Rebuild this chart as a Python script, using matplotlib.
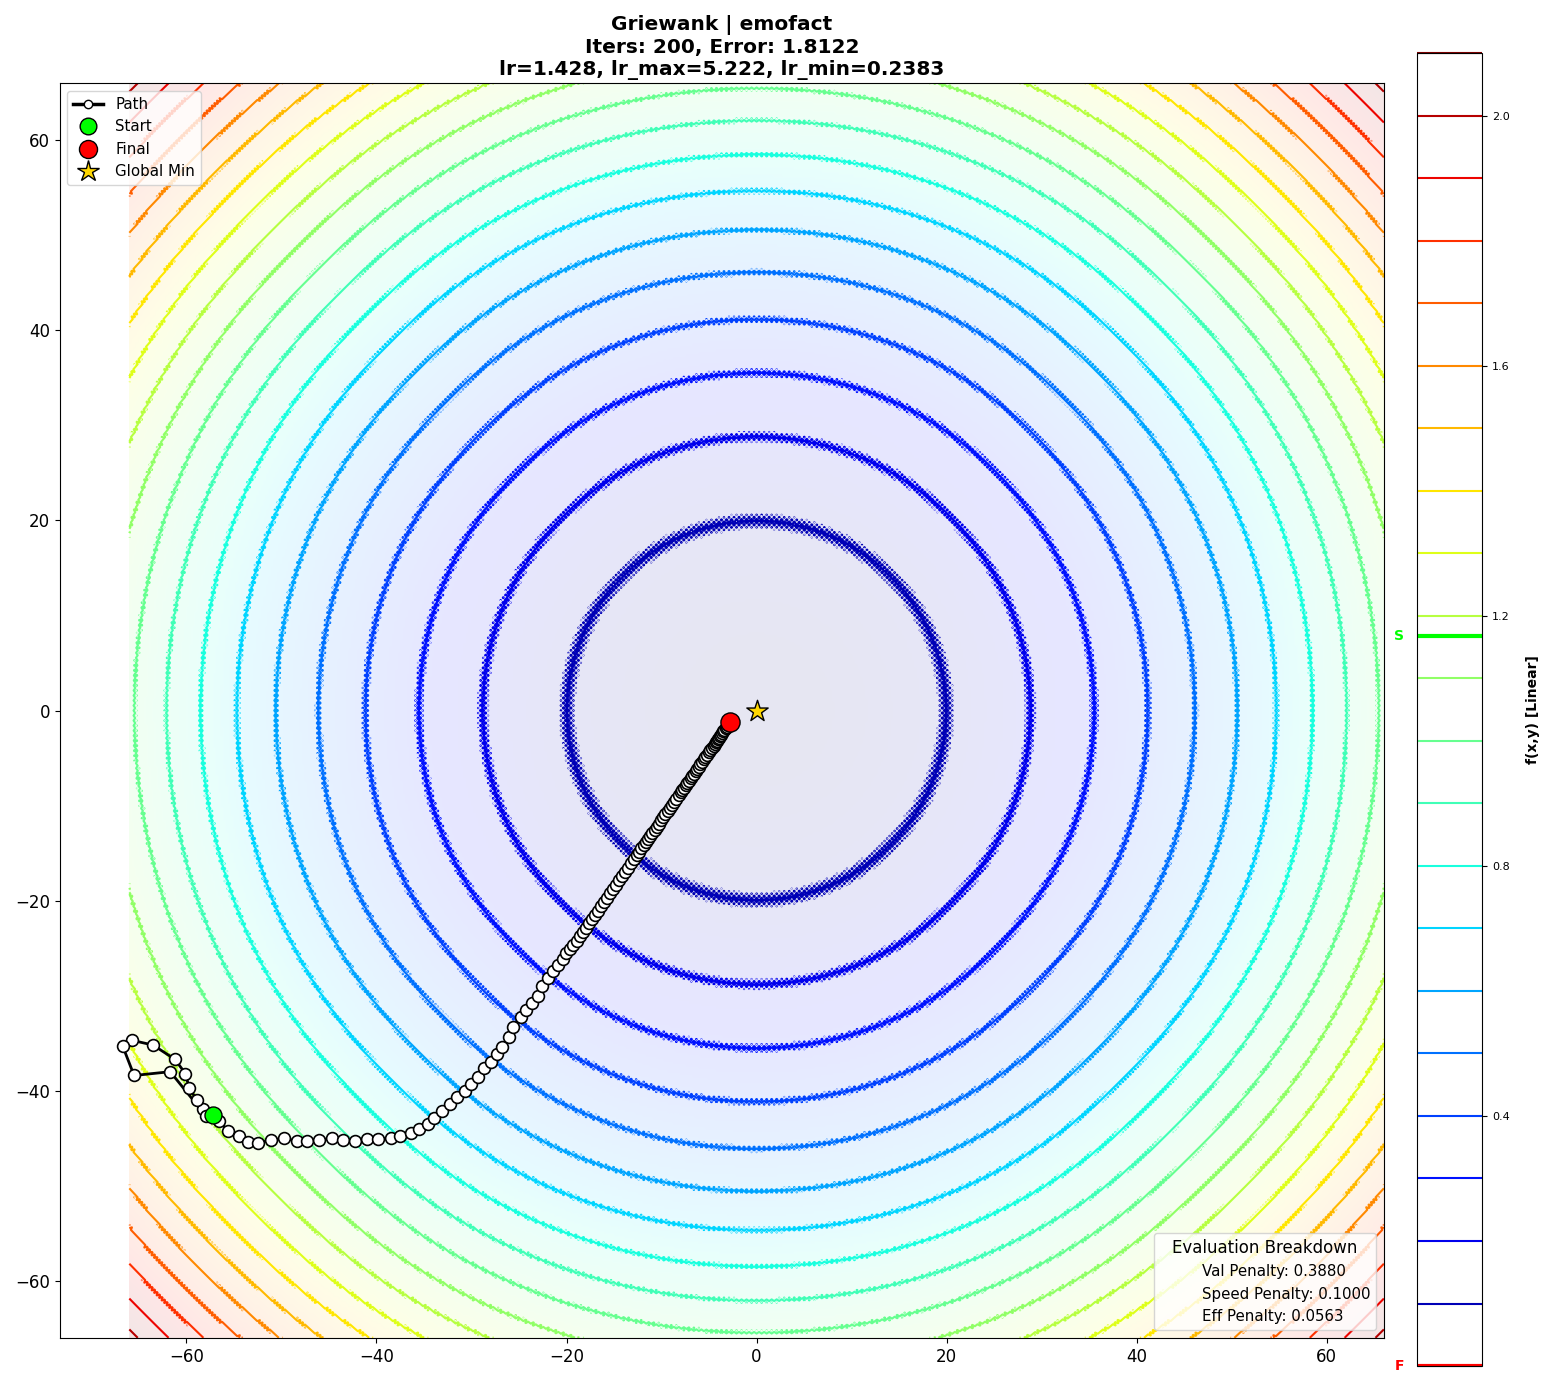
#!/usr/bin/env python3

"""
    Griewank landscape with the emofact optimiser path
"""

import numpy as np
import matplotlib
matplotlib.use("Agg")
import matplotlib.pyplot as plt
import matplotlib.transforms as mtransforms
from matplotlib.lines import Line2D

# contour levels of f(x,y) shown on the colour bar
levels = [0.0, 0.1, 0.2, 0.3, 0.4, 0.5, 0.6, 0.7, 0.8, 0.9, 1.0,
          1.1, 1.2, 1.3, 1.4, 1.5, 1.6, 1.7, 1.8, 1.9, 2.0, 2.1]
cbar_ticks = [0.4, 0.8, 1.2, 1.6, 2.0]
start_level = 1.168
final_level = 0.0

# optimiser path
path_x = [-57.15, -58.2, -58.9, -59.7, -60.1, -61.2, -63.5, -65.7, -66.7, -65.5,
          -61.7, -57.9, -56.6, -55.6, -54.5, -53.5, -52.5, -51.1, -49.7, -48.4,
          -47.3, -46.0, -44.7, -43.5, -42.3, -41.0, -39.8, -38.5, -37.5, -36.4,
          -35.5, -34.6, -33.9, -33.1, -32.3, -31.53, -30.73, -30.06, -29.36, -28.63,
          -27.96, -27.32, -26.74, -26.10, -25.58, -24.80, -24.24, -23.58, -23.05, -22.53,
          -22.00, -21.43, -20.85, -20.38, -20.04, -19.62, -19.27, -18.91,
          -18.58, -18.27, -17.95, -17.64, -17.32, -17.00, -16.69, -16.37, -16.05, -15.74,
          -15.42, -15.11, -14.79, -14.47, -14.16, -13.84, -13.52, -13.21, -12.89, -12.58,
          -12.35, -12.12, -11.89, -11.66, -11.43, -11.20, -10.97, -10.74, -10.51, -10.28,
          -10.05, -9.82, -9.59, -9.36, -9.13, -8.90, -8.67, -8.44, -8.21, -7.98,
          -7.80, -7.63, -7.46, -7.29, -7.11, -6.94, -6.77, -6.60, -6.42, -6.25,
          -6.08, -5.91, -5.73, -5.56, -5.39, -5.22, -5.04, -4.87, -4.70, -4.53,
          -4.41, -4.30, -4.18, -4.07, -3.95, -3.84, -3.72, -3.61, -3.49, -3.38,
          -3.26, -3.15, -3.03, -2.92, -2.80]
path_y = [-42.6, -41.9, -41.0, -39.7, -38.2, -36.7, -35.2, -34.7, -35.3, -38.4,
          -38.0, -42.7, -43.2, -44.2, -44.8, -45.4, -45.5, -45.2, -45.0, -45.3,
          -45.3, -45.2, -45.0, -45.2, -45.3, -45.1, -45.1, -45.0, -44.8, -44.5,
          -44.0, -43.5, -42.9, -42.1, -41.4, -40.70, -40.07, -39.30, -38.53, -37.65,
          -36.96, -36.15, -35.38, -34.39, -33.28, -32.29, -31.52, -30.79, -30.02, -29.03,
          -28.19, -27.39, -26.79, -26.16, -25.56, -25.11, -24.69, -24.24,
          -23.75, -23.30, -22.85, -22.39, -21.94, -21.49, -21.04, -20.59, -20.14, -19.68,
          -19.23, -18.78, -18.33, -17.88, -17.43, -16.98, -16.52, -16.07, -15.62, -15.17,
          -14.84, -14.51, -14.18, -13.86, -13.53, -13.20, -12.87, -12.54, -12.21, -11.89,
          -11.56, -11.23, -10.90, -10.57, -10.24, -9.92, -9.59, -9.26, -8.93, -8.60,
          -8.35, -8.11, -7.86, -7.62, -7.37, -7.12, -6.88, -6.63, -6.38, -6.14,
          -5.89, -5.65, -5.40, -5.15, -4.91, -4.66, -4.41, -4.17, -3.92, -3.68,
          -3.51, -3.35, -3.18, -3.02, -2.85, -2.69, -2.53, -2.36, -2.20, -2.03,
          -1.87, -1.70, -1.54, -1.38, -1.21]
global_min = (0.0, 0.0)

title = "Griewank | emofact\nIters: 200, Error: 1.8122\nlr=1.428, lr_max=5.222, lr_min=0.2383"
penalty_labels = ["Val Penalty: 0.3880", "Speed Penalty: 0.1000", "Eff Penalty: 0.0563"]

# surface: bowl plus a grid-scale ripple (that is what makes the fuzzy bands)
n = 501
grid = np.linspace(-66, 66, n)
h = grid[1] - grid[0]
X, Y = np.meshgrid(grid, grid)
ripple = 0.0079
bowl = (X**2 + Y**2) / 4320
Z = bowl + ripple * (1 - np.cos(np.pi * X / h) * np.cos(np.pi * Y / h))

fig = plt.figure(figsize=(15.49, 13.86), dpi=100)
ax = fig.add_axes([0.0387, 0.0346, 0.8547, 0.9055])
cax = fig.add_axes([0.9148, 0.0144, 0.042, 0.9473])

# light background shading from the smooth part only
ax.imshow(bowl + ripple, extent=(-66, 66, -66, 66), origin="lower", cmap="jet",
          alpha=0.1, interpolation="bilinear", aspect="auto")
cs = ax.contour(X, Y, Z, levels=levels, cmap="jet", linewidths=1.5)

ax.plot(path_x, path_y, "-o", color="black", lw=2, markersize=8.5,
        markerfacecolor="white", markeredgecolor="black", markeredgewidth=1.2, zorder=5)
ax.scatter(path_x[0], path_y[0], s=150, c="lime", edgecolors="black", zorder=6)
ax.scatter(path_x[-1], path_y[-1], s=190, c="red", edgecolors="black", zorder=6)
ax.scatter(*global_min, s=260, marker="*", c="gold", edgecolors="black", zorder=6)

ax.set_xlim(-73.3, 66)
ax.set_ylim(-66, 66)
ax.set_aspect("equal")
ax.tick_params(labelsize=12)
ax.set_title(title, fontsize=14.5, fontweight="bold")

handles = [
    Line2D([], [], color="black", lw=2.5, marker="o", markersize=6,
           markerfacecolor="white", markeredgecolor="black"),
    Line2D([], [], ls="none", marker="o", markersize=12,
           markerfacecolor="lime", markeredgecolor="black"),
    Line2D([], [], ls="none", marker="o", markersize=13,
           markerfacecolor="red", markeredgecolor="black"),
    Line2D([], [], ls="none", marker="*", markersize=16,
           markerfacecolor="gold", markeredgecolor="black"),
]
leg = ax.legend(handles, ["Path", "Start", "Final", "Global Min"],
                loc="upper left", fontsize=10.8)
ax.add_artist(leg)

blank = [Line2D([], [], ls="none") for _ in penalty_labels]
ax.legend(blank, penalty_labels, loc="lower right", fontsize=10.8,
          title="Evaluation Breakdown", title_fontsize=12)

cbar = fig.colorbar(cs, cax=cax, ticks=cbar_ticks)
cbar.set_label("f(x,y) [Linear]", fontsize=10, fontweight="bold", labelpad=12)
cax.tick_params(labelsize=8)
cax.axhline(start_level, color="lime", lw=3)
cax.axhline(final_level, color="red", lw=3)
trans = mtransforms.blended_transform_factory(cax.transAxes, cax.transData)
cax.text(-0.2, start_level, "S", color="lime", fontweight="bold",
         ha="right", va="center", transform=trans, fontsize=10)
cax.text(-0.2, final_level, "F", color="red", fontweight="bold",
         ha="right", va="center", transform=trans, fontsize=10)

fig.savefig("out.png", dpi=100)
